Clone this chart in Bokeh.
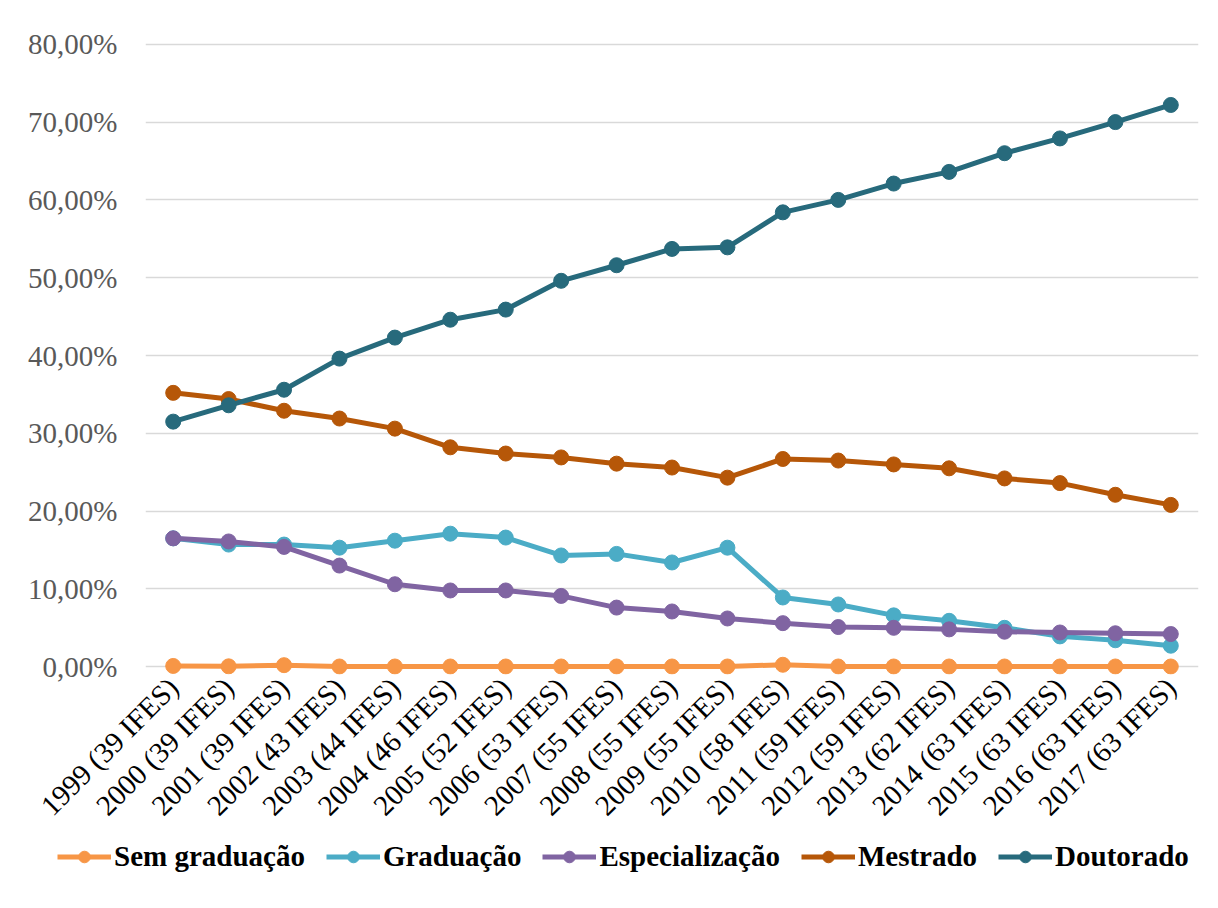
import math
from bokeh.plotting import figure
from bokeh.layouts import column, row
from bokeh.models import Range1d, FactorRange, FixedTicker, CustomJSTickFormatter, Legend, LegendItem
from bokeh.embed import file_html
from bokeh.resources import INLINE

categories = ["1999 (39 IFES)", "2000 (39 IFES)", "2001 (39 IFES)", "2002 (43 IFES)", "2003 (44 IFES)",
              "2004 (46 IFES)", "2005 (52 IFES)", "2006 (53 IFES)", "2007 (55 IFES)", "2008 (55 IFES)",
              "2009 (55 IFES)", "2010 (58 IFES)", "2011 (59 IFES)", "2012 (59 IFES)", "2013 (62 IFES)",
              "2014 (63 IFES)", "2015 (63 IFES)", "2016 (63 IFES)", "2017 (63 IFES)"]

sem_graduacao = [0.10, 0.05, 0.20, 0.03, 0.03, 0.03, 0.03, 0.03, 0.03, 0.03,
                 0.03, 0.25, 0.03, 0.03, 0.03, 0.03, 0.03, 0.03, 0.03]
graduacao = [16.5, 15.7, 15.7, 15.3, 16.2, 17.1, 16.6, 14.3, 14.5, 13.4,
             15.3, 8.9, 8.0, 6.6, 5.9, 5.0, 3.9, 3.4, 2.7]
especializacao = [16.5, 16.1, 15.4, 13.0, 10.6, 9.8, 9.8, 9.1, 7.6, 7.1,
                  6.2, 5.6, 5.1, 5.0, 4.8, 4.5, 4.4, 4.3, 4.2]
mestrado = [35.2, 34.4, 32.9, 31.9, 30.6, 28.2, 27.4, 26.9, 26.1, 25.6,
            24.3, 26.7, 26.5, 26.0, 25.5, 24.2, 23.6, 22.1, 20.8]
doutorado = [31.5, 33.6, 35.6, 39.6, 42.3, 44.6, 45.9, 49.6, 51.6, 53.7,
             53.9, 58.4, 60.0, 62.1, 63.6, 66.0, 67.9, 70.0, 72.2]

series_names = ["Sem graduação", "Graduação", "Especialização", "Mestrado", "Doutorado"]
series_values = [sem_graduacao, graduacao, especializacao, mestrado, doutorado]
series_colors = ["#F79646", "#4BACC6", "#8064A2", "#B65708", "#276A7C"]

y_ticks = [0, 10, 20, 30, 40, 50, 60, 70, 80]

p = figure(frame_width=1053, frame_height=638, output_backend="svg", toolbar_location=None,
           x_range=FactorRange(*categories, range_padding=0),
           y_range=Range1d(-1, 81),
           min_border_left=145, min_border_right=10, min_border_top=36, min_border_bottom=155)
p.x_range.factor_padding = 0
p.outline_line_color = None
p.background_fill_color = "white"
p.border_fill_color = "white"

p.xgrid.grid_line_color = None
p.ygrid.grid_line_color = "#d9d9d9"
p.ygrid.grid_line_width = 1.5
p.yaxis.ticker = FixedTicker(ticks=y_ticks)
p.yaxis.formatter = CustomJSTickFormatter(code="return tick.toFixed(2).replace('.', ',') + '%';")
p.yaxis.axis_line_color = None
p.yaxis.major_tick_line_color = None
p.yaxis.minor_tick_line_color = None
p.yaxis.major_label_text_font = "Liberation Serif"
p.yaxis.major_label_text_font_size = "29px"
p.yaxis.major_label_text_color = "#595959"
p.yaxis.major_label_standoff = 22

p.xaxis.axis_line_color = None
p.xaxis.major_tick_line_color = None
p.xaxis.minor_tick_line_color = None
p.xaxis.major_label_orientation = math.pi / 4
p.xaxis.major_label_text_font = "Liberation Serif"
p.xaxis.major_label_text_font_size = "29px"
p.xaxis.major_label_text_color = "#000000"
p.xaxis.major_label_standoff = 2

for name, vals, col in zip(series_names, series_values, series_colors):
    p.line(categories, vals, line_color=col, line_width=5)
    p.scatter(categories, vals, size=15, fill_color=col, line_color=col, marker="circle")

# legend strip below the chart (series drawn out of view, only the legend shows)
lf = figure(width=1208, height=70, output_backend="svg", toolbar_location=None,
            x_range=FactorRange(*categories), y_range=Range1d(500, 501),
            x_axis_location=None, y_axis_location=None, min_border=0)
lf.outline_line_color = None
lf.background_fill_color = "white"
lf.border_fill_color = "white"
lf.xgrid.grid_line_color = None
lf.ygrid.grid_line_color = None
items = []
for name, vals, col in zip(series_names, series_values, series_colors):
    l = lf.line(categories, vals, line_color=col, line_width=5)
    s = lf.scatter(categories, vals, size=15, fill_color=col, line_color=col, marker="circle")
    items.append(LegendItem(label=name, renderers=[l, s]))

legend = Legend(items=items, orientation="horizontal", location=(57, 32),
                border_line_color=None, background_fill_alpha=0,
                label_text_font="Liberation Serif", label_text_font_style="bold",
                label_text_font_size="29px", label_text_color="#000000",
                glyph_width=54, glyph_height=29, label_standoff=3, spacing=21,
                padding=4, margin=0)
lf.add_layout(legend, "center")

layout = column(p, row(lf, spacing=0), spacing=0)
open("out.html", "w").write(file_html(layout, INLINE))
